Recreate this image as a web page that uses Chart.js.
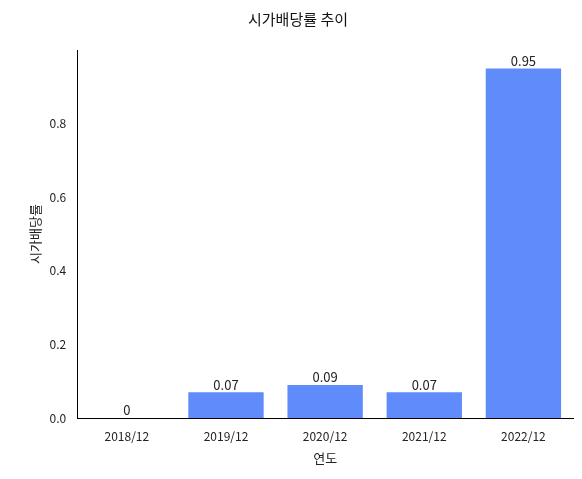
<!DOCTYPE html>
<html>
<head>
<meta charset="utf-8">
<script src="https://cdn.jsdelivr.net/npm/chart.js@4"></script>
<style>
  body { margin: 0; background: #fff; }
  #wrap { width: 582px; height: 479px; }
</style>
</head>
<body>
<div id="wrap"><canvas id="myChart"></canvas></div>
<script>
const years = ["2018/12", "2019/12", "2020/12", "2021/12", "2022/12"];
const yieldValues = [0, 0.07, 0.09, 0.07, 0.95];
const yTicks = [0, 0.2, 0.4, 0.6, 0.8];

const font = "'Noto Sans CJK KR', 'Noto Sans', sans-serif";
Chart.defaults.font.family = font;
Chart.defaults.color = "#222";

const valueLabels = {
    id: "valueLabels",
    afterDatasetsDraw(chart) {
        const ctx = chart.ctx;
        const meta = chart.getDatasetMeta(0);
        ctx.save();
        ctx.font = "13px " + font;
        ctx.fillStyle = "#222";
        ctx.textAlign = "center";
        ctx.textBaseline = "bottom";
        meta.data.forEach((bar, i) => {
            ctx.fillText(String(yieldValues[i]), bar.x, bar.y - 1);
        });
        ctx.restore();
    }
};

new Chart(document.getElementById("myChart"), {
    type: "bar",
    data: {
        labels: years,
        datasets: [{
            data: yieldValues,
            backgroundColor: "#608bfa",
            barPercentage: 0.76,
            categoryPercentage: 1
        }]
    },
    options: {
        responsive: true,
        maintainAspectRatio: false,
        animation: false,
        layout: { padding: { left: 23, right: 9, top: 4, bottom: 9 } },
        plugins: {
            legend: { display: false },
            tooltip: { enabled: false },
            title: {
                display: true,
                text: "시가배당률 추이",
                font: { size: 15, weight: "normal" },
                color: "#111",
                padding: { top: 6, bottom: 22 }
            }
        },
        scales: {
            x: {
                grid: { display: false, drawTicks: true },
                border: { color: "#000" },
                ticks: { font: { size: 12 }, color: "#222" },
                title: { display: true, text: "연도", font: { size: 13 }, color: "#222" }
            },
            y: {
                min: 0,
                max: 1.0,
                afterBuildTicks(axis) {
                    axis.ticks = yTicks.map(v => ({ value: v }));
                },
                grid: { display: false, drawTicks: true },
                border: { color: "#000" },
                ticks: { font: { size: 12 }, color: "#222", callback: v => v.toFixed(1) },
                title: { display: true, text: "시가배당률", font: { size: 13 }, color: "#222" }
            }
        }
    },
    plugins: [valueLabels]
});
</script>
</body>
</html>
